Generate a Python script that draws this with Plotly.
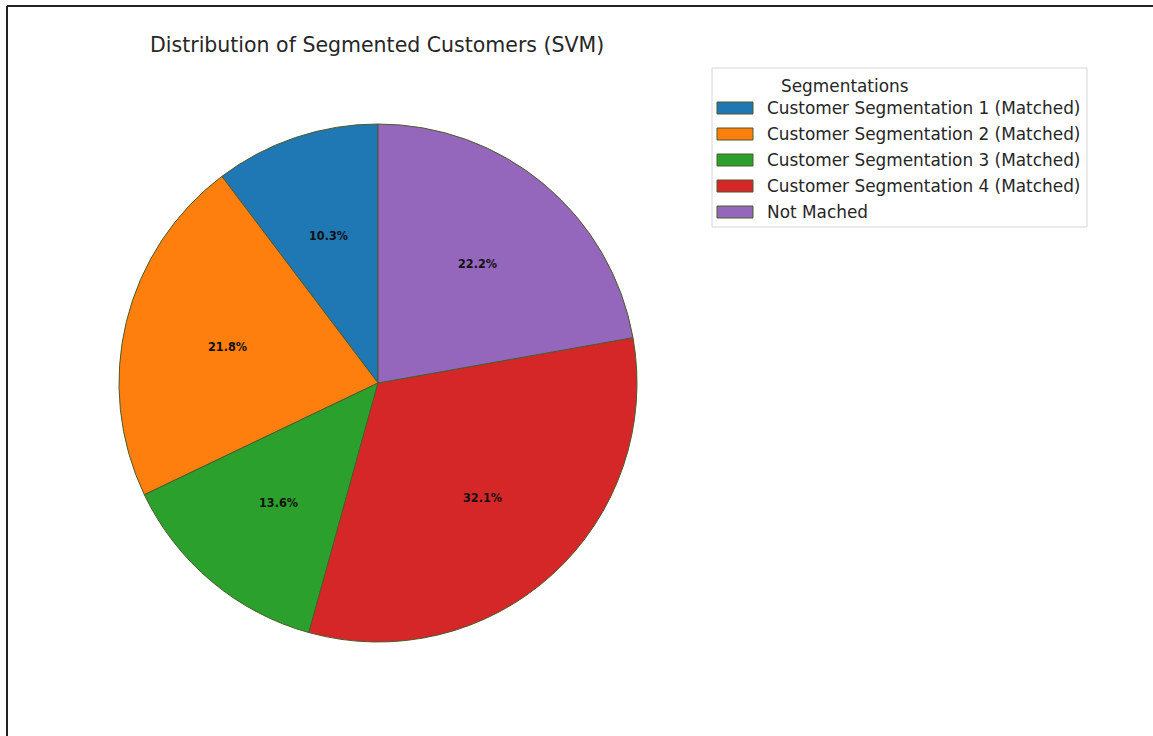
import math
import plotly.graph_objects as go

W, H = 1153, 736

# Segment shares (%)
labels = [
    "Customer Segmentation 1 (Matched)",
    "Customer Segmentation 2 (Matched)",
    "Customer Segmentation 3 (Matched)",
    "Customer Segmentation 4 (Matched)",
    "Not Mached",
]
values = [10.3, 21.8, 13.6, 32.1, 22.2]
colors = ["#1f77b4", "#ff7f0e", "#2ca02c", "#d62728", "#9467bd"]

# Pie geometry in pixels
cx, cy, r = 378, 383, 259

def px(x):
    return x / W

def py(y):
    return 1 - y / H

total = sum(values)
first_span = values[0] / total * 360

fig = go.Figure()
fig.add_trace(go.Pie(
    labels=labels,
    values=values,
    marker=dict(colors=colors, line=dict(color="#4d5a2c", width=1)),
    sort=False,
    direction="counterclockwise",
    # shift so the first wedge begins at 12 o'clock and runs anticlockwise
    rotation=-first_span,
    textinfo="none",
    hoverinfo="label+percent",
    showlegend=False,
    domain=dict(x=[px(cx - r), px(cx + r)], y=[py(cy + r), py(cy - r)]),
))

annotations = []
shapes = []

# Percentage labels at 60% of radius, middle of each wedge
start = 90.0
for v in values:
    span = v / total * 360
    mid = math.radians(start + span / 2)
    lx = cx + 0.6 * r * math.cos(mid)
    ly = cy - 0.6 * r * math.sin(mid)
    annotations.append(dict(
        x=px(lx), y=py(ly), xref="paper", yref="paper",
        text=f"<b>{v:.1f}%</b>", showarrow=False,
        font=dict(family="DejaVu Sans Condensed, DejaVu Sans", size=12.5, color="#111111"),
        xanchor="center", yanchor="middle",
    ))
    start += span

# Title
annotations.append(dict(
    x=px(377), y=py(45), xref="paper", yref="paper",
    text="Distribution of Segmented Customers (SVM)", showarrow=False,
    font=dict(family="DejaVu Sans", size=20.5, color="#262626"),
    xanchor="center", yanchor="middle",
))

# Legend box
lx0, ly0, lx1, ly1 = 712, 68, 1087, 227
shapes.append(dict(type="rect", xref="paper", yref="paper",
                   x0=px(lx0), x1=px(lx1), y0=py(ly1), y1=py(ly0),
                   line=dict(color="#d6d6d6", width=1), fillcolor="white"))
annotations.append(dict(
    x=px(845), y=py(86), xref="paper", yref="paper",
    text="Segmentations", showarrow=False,
    font=dict(family="DejaVu Sans", size=16.9, color="#262626"),
    xanchor="center", yanchor="middle",
))
for i, (lab, col) in enumerate(zip(labels, colors)):
    yc = 108 + 26 * i
    shapes.append(dict(type="rect", xref="paper", yref="paper",
                       x0=px(717), x1=px(753), y0=py(yc + 6), y1=py(yc - 6),
                       line=dict(color="#4d5a2c", width=1), fillcolor=col))
    annotations.append(dict(
        x=px(765), y=py(yc), xref="paper", yref="paper",
        text=lab, showarrow=False,
        font=dict(family="DejaVu Sans", size=16.9, color="#262626"),
        xanchor="left", yanchor="middle",
    ))

# Frame lines along top and left
shapes.append(dict(type="line", xref="paper", yref="paper",
                   x0=px(7), x1=1, y0=py(6), y1=py(6),
                   line=dict(color="#222222", width=2)))
shapes.append(dict(type="line", xref="paper", yref="paper",
                   x0=px(7), x1=px(7), y0=0, y1=py(6),
                   line=dict(color="#222222", width=2)))

fig.update_layout(
    width=W, height=H,
    margin=dict(l=0, r=0, t=0, b=0),
    paper_bgcolor="white",
    plot_bgcolor="white",
    annotations=annotations,
    shapes=shapes,
)

fig.write_html("out.html")
